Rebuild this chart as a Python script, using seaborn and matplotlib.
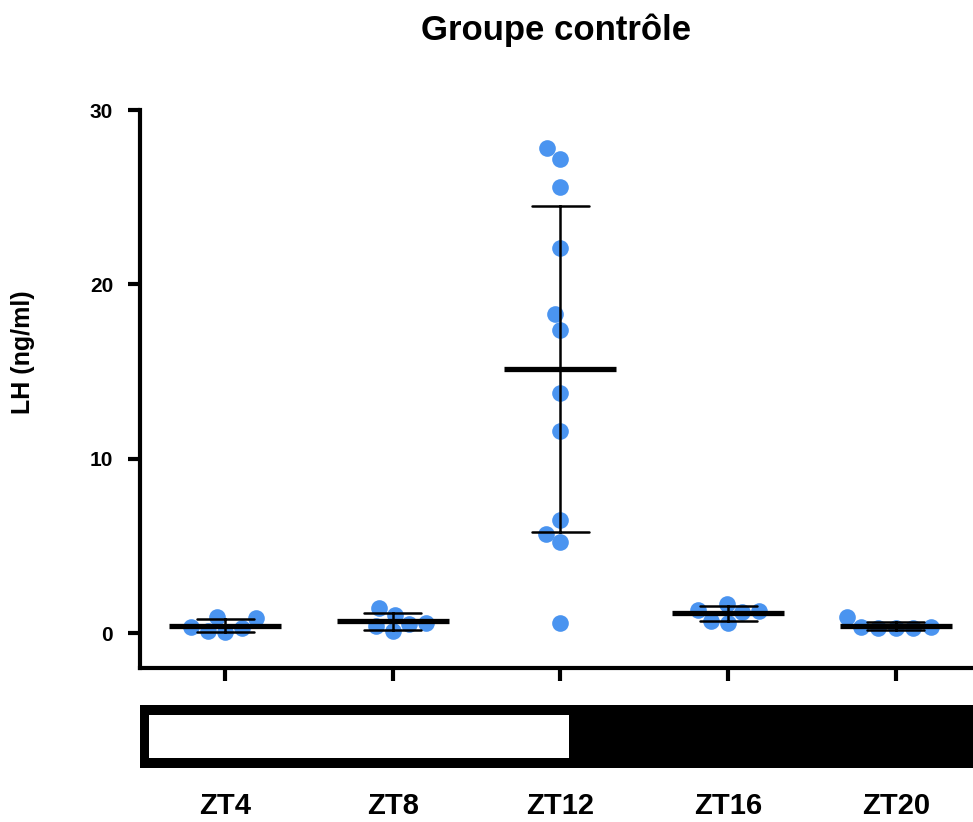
import matplotlib
matplotlib.use('Agg')
import matplotlib.pyplot as plt
import seaborn as sns
import pandas as pd

# LH values (ng/ml) read per time point
zt_labels = ['ZT4', 'ZT8', 'ZT12', 'ZT16', 'ZT20']
lh_zt4 = [0.85, 0.3, 0.05, 0.1, 0.35, 0.9]
lh_zt8 = [1.05, 0.5, 0.1, 0.4, 0.6, 1.45]
lh_zt12 = [27.8, 27.2, 25.6, 22.1, 18.3, 17.4, 13.8, 11.6, 6.5, 5.7, 5.2, 0.6]
lh_zt16 = [1.7, 1.35, 0.6, 0.7, 1.25, 1.2]
lh_zt20 = [0.3, 0.35, 0.3, 0.35, 0.3, 0.9]
light_phase_end = 'ZT12'

groups = [lh_zt4, lh_zt8, lh_zt12, lh_zt16, lh_zt20]
df = pd.DataFrame({
    'zt': [z for z, g in zip(zt_labels, groups) for _ in g],
    'lh': [v for g in groups for v in g],
})

sns.set_style('ticks')
plt.rcParams['font.family'] = ['Liberation Sans', 'DejaVu Sans']
plt.rcParams['font.weight'] = 'bold'
plt.rcParams['text.color'] = 'black'
plt.rcParams['axes.labelcolor'] = 'black'
plt.rcParams['axes.edgecolor'] = 'black'
plt.rcParams['xtick.color'] = 'black'
plt.rcParams['ytick.color'] = 'black'

fig = plt.figure(figsize=(9.73, 8.22), dpi=100)
ax = fig.add_axes([0.1434, 0.1873, 0.8566, 0.6788])

sns.swarmplot(data=df, x='zt', y='lh', order=zt_labels, color='#4A94F0',
              size=12, linewidth=0, ax=ax, zorder=1)
sns.pointplot(data=df, x='zt', y='lh', order=zt_labels, errorbar='sd',
              color='black', linestyle='none', marker='_', markersize=80,
              markeredgewidth=3.8, capsize=0.34, err_kws={'linewidth': 1.8},
              ax=ax, zorder=5)

xmin, xmax = -0.51, 4.46
ax.set_xlim(xmin, xmax)
ax.set_ylim(-2, 30)
ax.set_yticks([0, 10, 20, 30])
ax.set_xticks(range(len(zt_labels)))
ax.set_xticklabels([''] * len(zt_labels))
ax.set_xlabel('')
ax.set_ylabel('LH (ng/ml)', fontsize=18, fontweight='bold')
ax.yaxis.set_label_coords(-0.125, 0.566)
sns.despine(ax=ax)
for side in ['left', 'bottom']:
    ax.spines[side].set_linewidth(3)
ax.tick_params(axis='both', width=3, length=9, labelsize=15)
ax.tick_params(axis='y', pad=10)

# light / dark bar under the axis
ax_bar = fig.add_axes([0.1434, 0.0657, 0.8566, 0.0766])
ax_bar.set_facecolor('black')
ax_bar.set_xlim(xmin, xmax)
ax_bar.set_ylim(0, 1)
end_pos = zt_labels.index(light_phase_end) + 0.05
start_pos = xmin + 0.055
ax_bar.barh(0.5, end_pos - start_pos, left=start_pos, height=0.68,
            color='white', linewidth=0)
for s in ax_bar.spines.values():
    s.set_visible(False)
ax_bar.set_yticks([])
ax_bar.set_xticks(range(len(zt_labels)))
ax_bar.set_xticklabels(zt_labels, fontsize=21, fontweight='bold')
ax_bar.tick_params(axis='x', length=0, pad=17)

fig.text(0.571, 1 - 30 / 822, 'Groupe contrôle', ha='center', va='center',
         fontsize=25, fontweight='bold')

fig.savefig('out.png', dpi=100)
